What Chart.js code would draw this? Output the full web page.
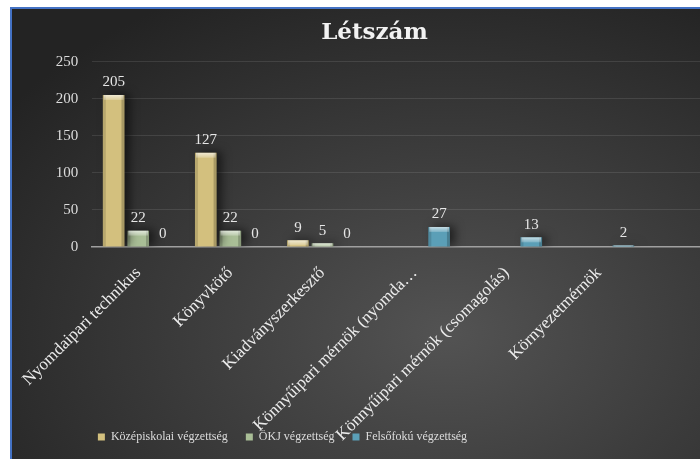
<!DOCTYPE html>
<html>
<head>
<meta charset="utf-8">
<script src="https://cdn.jsdelivr.net/npm/chart.js@4.4.1/dist/chart.umd.min.js"></script>
<style>
html, body { margin: 0; padding: 0; background: #fff; overflow: hidden; width: 700px; height: 459px; }
#keret {
  position: absolute; left: 10px; top: 7px; width: 726px; height: 450px;
  border-top: 2px solid #4472c4; border-left: 2px solid #4472c4;
  background: radial-gradient(ellipse 75% 85% at 60% 72%, #535353 0%, #3d3d3d 45%, #232323 100%);
}
canvas { display: block; }
</style>
</head>
<body>
<div id="keret"><canvas id="grafikon" width="726" height="450"></canvas></div>
<script>
(function() {
/* ---------- Adatok ---------- */
// az utolsó, üres kategória az eredeti táblázat üres sora
const kategoriak = [
  'Nyomdaipari technikus',
  'Könyvkötő',
  'Kiadványszerkesztő',
  'Könnyűipari mérnök (nyomda…',
  'Könnyűipari mérnök (csomagolás)',
  'Környezetmérnök',
  ''
];
const kozepiskolai = [205, 127, 9, null, null, null, null];
const okj = [22, 22, 5, null, null, null, null];
const felsofoku = [0, 0, 0, 27, 13, 2, null];
const sorozatNevek = ['Középiskolai végzettség', 'ÖKJ végzettség', 'Felsőfokú végzettség'];
const yMax = 250;
const yLepes = 50;

/* ---------- Színek ---------- */
const szinek = ['#d3c07e', '#a9be96', '#5b9fb7'];
const betu = '"Liberation Serif", serif';

/* ---------- Oszlop díszítés + címkék ---------- */
const oszlopDisz = {
  id: 'oszlopDisz',
  beforeDatasetsDraw(chart) {
    const c = chart.ctx;
    c.save();
    c.shadowColor = 'rgba(0,0,0,0.55)';
    c.shadowBlur = 10;
    c.shadowOffsetX = 5;
    c.shadowOffsetY = -1;
  },
  afterDatasetsDraw(chart) {
    const c = chart.ctx;
    c.restore();
    c.save();
    chart.data.datasets.forEach((ds, i) => {
      const meta = chart.getDatasetMeta(i);
      meta.data.forEach((el, j) => {
        const v = ds.data[j];
        if (v === null || v === undefined) return;
        const { x, y, base, width } = el.getProps(['x', 'y', 'base', 'width'], true);
        const h = base - y;
        const l = x - width / 2;
        if (h > 0) {
          c.fillStyle = 'rgba(0,0,0,0.13)';
          c.fillRect(l, y, 3, h);
          c.fillStyle = 'rgba(0,0,0,0.2)';
          c.fillRect(l + width - 3, y, 3, h);
          const cap = Math.min(5, h);
          const g = c.createLinearGradient(0, y, 0, y + cap);
          g.addColorStop(0, 'rgba(255,255,255,0.65)');
          g.addColorStop(1, 'rgba(255,255,255,0.2)');
          c.fillStyle = g;
          c.fillRect(l + 1, y, width - 2, cap);
        }
        c.font = '15px ' + betu;
        c.fillStyle = '#e6e6e6';
        c.textAlign = 'center';
        c.textBaseline = 'bottom';
        c.fillText(String(v), x, y - 5);
      });
    });
    c.restore();
  }
};

/* ---------- Elrendezés igazítás ---------- */
const igazitas = {
  id: 'igazitas',
  afterLayout(chart) {
    // jelmagyarázat balra, a ferde feliratok ne vágódjanak le
    const lg = chart.legend;
    lg.left -= 92;
    lg.right -= 92;
    chart.scales.x.bottom = chart.height;
  }
};

/* ---------- Grafikon ---------- */
const ctx = document.getElementById('grafikon').getContext('2d');
new Chart(ctx, {
  type: 'bar',
  data: {
    labels: kategoriak,
    datasets: [
      { label: sorozatNevek[0], data: kozepiskolai, backgroundColor: szinek[0] },
      { label: sorozatNevek[1], data: okj, backgroundColor: szinek[1] },
      { label: sorozatNevek[2], data: felsofoku, backgroundColor: szinek[2] }
    ]
  },
  options: {
    responsive: false,
    animation: false,
    devicePixelRatio: 1,
    categoryPercentage: 0.8,
    barPercentage: 0.88,
    layout: { padding: { left: 0, right: 1, top: 0, bottom: 6 } },
    scales: {
      x: {
        grid: { display: false },
        border: { display: true, color: '#a0a0a0', width: 1.5 },
        ticks: {
          color: '#ececec',
          font: { family: betu, size: 17 },
          minRotation: 45,
          maxRotation: 45,
          autoSkip: false,
          padding: 8
        },
        afterFit(scale) { scale.height = 166; }
      },
      y: {
        min: 0,
        max: yMax,
        grid: { color: 'rgba(255,255,255,0.1)', lineWidth: 1, drawTicks: false },
        border: { display: false },
        ticks: {
          stepSize: yLepes,
          color: '#dcdcdc',
          font: { family: betu, size: 15 },
          padding: 14
        },
        afterFit(scale) { scale.width = 80; }
      }
    },
    plugins: {
      title: {
        display: true,
        text: 'Létszám',
        color: '#f2f2f2',
        font: { family: '"DejaVu Serif", serif', size: 23, weight: 'bold' },
        padding: { top: 10, bottom: 15 }
      },
      legend: {
        position: 'bottom',
        labels: {
          color: '#dcdcdc',
          font: { family: betu, size: 12 },
          boxWidth: 7,
          boxHeight: 7,
          padding: 18
        }
      },
      tooltip: { enabled: false }
    }
  },
  plugins: [oszlopDisz, igazitas]
});
})();
</script>
</body>
</html>
